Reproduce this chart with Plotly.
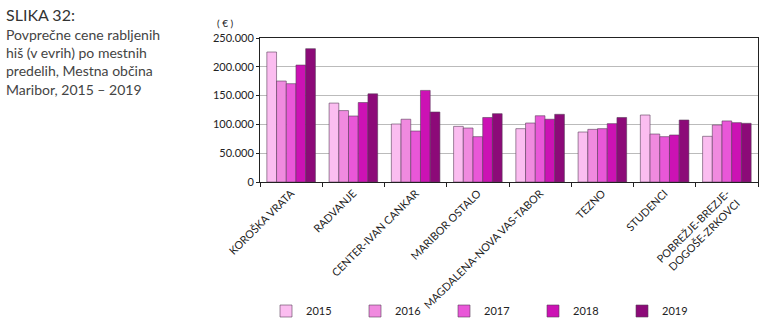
import plotly.graph_objects as go

# Mestni predeli (x-axis categories)
districts = [
    "KOROŠKA VRATA",
    "RADVANJE",
    "CENTER-IVAN CANKAR",
    "MARIBOR OSTALO",
    "MAGDALENA-NOVA VAS-TABOR",
    "TEZNO",
    "STUDENCI",
    "POBREŽJE-BREZJE-<br>DOGOŠE-ZRKOVCI",
]

years = ["2015", "2016", "2017", "2018", "2019"]

# Average prices of used houses (EUR) per district, one list per year
price_2015 = [225700, 137000, 100700, 96600, 92600, 86800, 116300, 79300]
price_2016 = [175300, 124000, 109000, 93700, 102400, 91400, 83300, 99000]
price_2017 = [170700, 114600, 88500, 78700, 115000, 92600, 78700, 106000]
price_2018 = [203000, 138000, 159000, 112000, 109000, 101300, 81600, 103000]
price_2019 = [231500, 153000, 121500, 118600, 117500, 112000, 107600, 101900]

series = [price_2015, price_2016, price_2017, price_2018, price_2019]
colors = ["#FBBDF0", "#F08ADF", "#E957D8", "#CC12B4", "#8C0A78"]

fig = go.Figure()
for year, vals, col in zip(years, series, colors):
    fig.add_trace(go.Bar(
        x=districts,
        y=vals,
        name=year,
        marker=dict(color=col, line=dict(color="rgba(90,60,90,0.85)", width=0.7)),
    ))

W, H = 768, 330
L, R, T, B = 260, 10, 38, 148
pw = W - L - R
ph = H - T - B


def px_x(x):
    return (x - L) / pw


def px_y(y):
    return (H - B - y) / ph


fig.update_layout(
    width=W,
    height=H,
    margin=dict(l=L, r=R, t=T, b=B, pad=0, autoexpand=False),
    paper_bgcolor="white",
    plot_bgcolor="white",
    barmode="group",
    bargap=0.22,
    bargroupgap=0,
    separators=",.",
    font=dict(family="Lato, 'Open Sans', sans-serif", color="#222222"),
    showlegend=True,
    legend=dict(
        orientation="h",
        xref="container", yref="container",
        x=266 / W, xanchor="left",
        y=(H - 311) / H, yanchor="middle",
        entrywidth=44, entrywidthmode="pixels",
        itemwidth=30,
        font=dict(size=11, color="#222222"),
        bgcolor="rgba(0,0,0,0)",
        traceorder="normal",
    ),
    xaxis=dict(
        automargin=False,
        tickangle=-45,
        tickfont=dict(size=10.8, color="#222222"),
        showline=True, linecolor="#222222", linewidth=1, mirror=True,
        ticks="outside", ticklen=4, tickcolor="#222222",
        tickson="boundaries",
        showgrid=False,
    ),
    yaxis=dict(
        automargin=False,
        range=[0, 250000],
        dtick=50000,
        tickformat=",d",
        tickfont=dict(size=11, color="#222222"),
        showline=True, linecolor="#222222", linewidth=1, mirror=True,
        ticks="outside", ticklen=3, tickcolor="#222222",
        showgrid=True, gridcolor="#BBBBBB", gridwidth=1,
        zeroline=False,
    ),
)

# Figure caption on the left
fig.add_annotation(
    text="SLIKA 32:",
    xref="paper", yref="paper",
    x=px_x(4), y=px_y(3), xanchor="left", yanchor="top",
    showarrow=False, align="left",
    font=dict(size=16, color="#333333", family="Lato, sans-serif"),
)
fig.add_annotation(
    text="Povprečne cene rabljenih<br>hiš (v evrih) po mestnih<br>predelih, Mestna občina<br>Maribor, 2015 – 2019",
    xref="paper", yref="paper",
    x=px_x(4), y=px_y(24), xanchor="left", yanchor="top",
    showarrow=False, align="left",
    font=dict(size=14, color="#444444", family="Lato, sans-serif"),
)

# Unit label above the value axis
fig.add_annotation(
    text="( € )",
    xref="paper", yref="paper",
    x=px_x(225), y=px_y(23), xanchor="center", yanchor="middle",
    showarrow=False,
    font=dict(size=10, color="#222222"),
)

fig.write_html("out.html")
